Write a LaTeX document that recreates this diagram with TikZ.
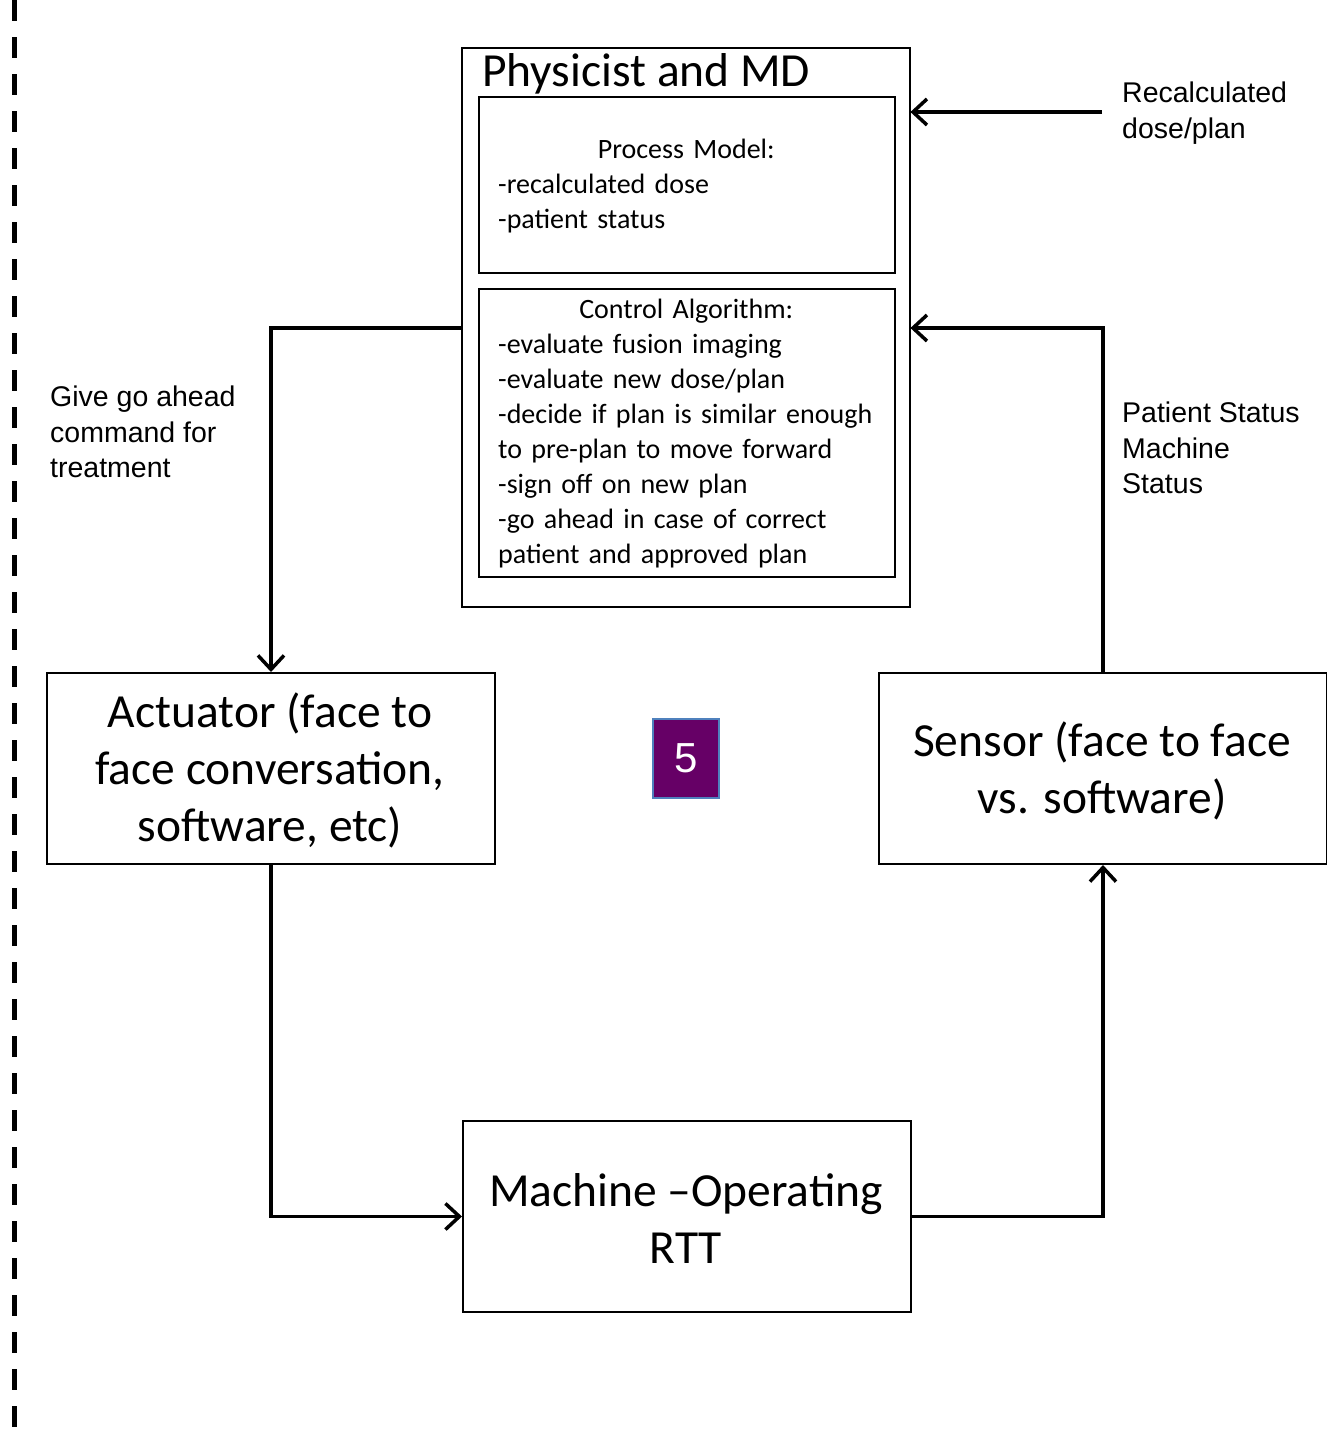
\documentclass[tikz,border=0pt]{standalone}
\usepackage{fontspec}
\setmainfont{Carlito}
\newfontfamily\arialf{Liberation Sans}
\usetikzlibrary{arrows.meta}
\definecolor{boxpurple}{HTML}{660066}
\definecolor{boxblue}{HTML}{4F81BD}
\begin{document}
\begin{tikzpicture}[x=1pt,y=-1pt,
  box/.style={draw=black,line width=2pt},
  conn/.style={line width=3.5pt,-{Straight Barb[length=14pt,width=26pt,line width=3.5pt]}},
  bigtxt/.style={font=\fontsize{47.5}{57}\selectfont,align=center,inner sep=0pt},
  smalltxt/.style={font=\fontsize{28}{35}\selectfont,align=left,inner sep=0pt,text width=390pt,anchor=west},
  lbl/.style={font=\arialf\fontsize{28.5}{35.5}\selectfont,align=left,inner sep=0pt,anchor=west}]
\useasboundingbox (0,0) rectangle (1326,1440);
\fill[white] (0,0) rectangle (1326,1440);
% left dashed line
\draw[line width=5pt,dash pattern=on 21pt off 16pt] (14,0) -- (14,1440);
% boxes
\draw[box] (462,48) rectangle (910,607);
\node[box,minimum width=416pt,minimum height=176pt,anchor=north west] (pm) at (478,96) {};
\node[box,minimum width=416pt,minimum height=288pt,anchor=north west] (ca) at (478,288) {};
\node[minimum width=448pt,minimum height=560pt,anchor=north west,inner sep=0pt] (phys) at (462,48) {};
\node[box,minimum width=448pt,minimum height=191pt,anchor=north west] (act) at (46,672) {};
\node[box,minimum width=448pt,minimum height=191pt,anchor=north west] (sen) at (878,672) {};
\node[box,minimum width=448pt,minimum height=191pt,anchor=north west] (mach) at (462,1120) {};
% texts
\node[anchor=base west,inner sep=0pt,font=\fontsize{47.5}{57}\selectfont] (physt) at (482,86) {Physicist and MD};
\node[smalltxt] (pmt) at (498,186) {\makebox[376pt][c]{Process Model:}\\-recalculated dose\\-patient status};
\node[smalltxt] (cat) at (498,434) {\makebox[376pt][c]{Control Algorithm:}\\-evaluate fusion imaging\\-evaluate new dose/plan\\-decide if plan is similar enough\\to pre-plan to move forward\\-sign off on new plan\\-go ahead in case of correct\\patient and approved plan};
\node[bigtxt] (actt) at (270,770) {Actuator (face to\\face conversation,\\software, etc)};
\node[bigtxt] (sent) at (1102,771) {Sensor (face to face\\vs. software)};
\node[bigtxt] (macht) at (686,1218) {Machine –Operating\\RTT};
% number box
\node[draw=boxblue,fill=boxpurple,line width=2pt,minimum width=66pt,minimum height=79pt,text=white,font=\arialf\fontsize{42}{42}\selectfont,inner sep=0pt] (five) at (686,758) {5};
% labels
\node[lbl] (recl) at (1122,113) {Recalculated\\dose/plan};
\node[lbl] (gol) at (50,432) {Give go ahead\\command for\\treatment};
\node[lbl] (psl) at (1122,448) {Patient Status\\Machine\\Status};
% connectors
\coordinate (recsrc) at (1102,112);
\draw[conn] (recsrc) -- (phys.east |- recsrc);
\draw[conn] (phys.west |- 0,328) -| (act.north);
\draw[conn] (sen.north) |- (phys.east |- 0,328);
\draw[conn] (act.south) |- (mach.west);
\draw[conn] (mach.east) -| (sen.south);
\end{tikzpicture}
\end{document}
